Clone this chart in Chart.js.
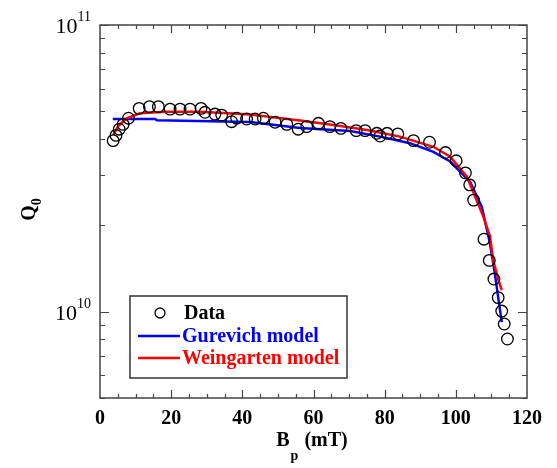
<!DOCTYPE html>
<html>
<head>
<meta charset="utf-8">
<script src="https://cdn.jsdelivr.net/npm/chart.js@4"></script>
<style>
  html, body { margin: 0; padding: 0; background: #fff; }
  #wrap { width: 557px; height: 468px; }
</style>
</head>
<body>
<div id="wrap"><canvas id="chart" width="557" height="468"></canvas></div>
<script>
// measured data (B_p in mT, Q0)
const dataB = [3.7, 4.5, 5.4, 6.5, 8.0, 11.0, 13.9, 16.4, 19.7, 22.5, 25.3, 28.4, 29.5, 32.3, 34.2, 37.0, 38.4, 41.2, 43.6, 45.9,
  49.2, 52.5, 55.7, 58.1, 61.4, 64.6, 67.7, 72.0, 74.5, 77.8, 78.7, 80.7, 83.7, 88.1, 92.6, 97.1, 100.1, 102.7, 103.9, 105.0,
  107.9, 109.4, 110.7, 111.9, 112.9, 113.6, 114.5];
const dataQ = [3.95e10, 4.12e10, 4.33e10, 4.50e10, 4.73e10, 5.12e10, 5.19e10, 5.19e10, 5.09e10, 5.09e10, 5.09e10, 5.12e10, 4.96e10, 4.89e10, 4.85e10, 4.60e10, 4.73e10, 4.70e10, 4.70e10, 4.73e10,
  4.58e10, 4.50e10, 4.33e10, 4.42e10, 4.54e10, 4.42e10, 4.36e10, 4.28e10, 4.28e10, 4.19e10, 4.10e10, 4.19e10, 4.17e10, 3.95e10, 3.90e10, 3.59e10, 3.36e10, 3.05e10, 2.77e10, 2.45e10,
  1.79e10, 1.51e10, 1.30e10, 1.12e10, 1.005e10, 9.06e9, 8.03e9];

const gurB = [3.6, 15.5, 16.0, 42.2, 56.2, 70.3, 78.7, 87.1, 93.7, 98.4, 102.1, 104.0, 107.3, 109.6, 111.0, 112.0, 112.9];
const gurQ = [4.70e10, 4.70e10, 4.65e10, 4.59e10, 4.37e10, 4.27e10, 4.08e10, 3.87e10, 3.61e10, 3.34e10, 3.00e10, 2.84e10, 2.32e10, 1.73e10, 1.35e10, 1.10e10, 9.2e9];

const weiB = [3.7, 5.1, 7.5, 11.2, 18.7, 28.1, 42.2, 56.2, 65.6, 75.0, 84.3, 93.7, 98.4, 103.1, 105.4, 107.7, 109.6, 110.5, 111.9, 112.9];
const weiQ = [4.13e10, 4.44e10, 4.73e10, 4.92e10, 4.98e10, 4.98e10, 4.87e10, 4.64e10, 4.48e10, 4.30e10, 4.08e10, 3.76e10, 3.47e10, 2.96e10, 2.52e10, 2.15e10, 1.83e10, 1.51e10, 1.30e10, 1.19e10];

const xTicks = [0, 20, 40, 60, 80, 100, 120];
const yMajor = [1e10, 1e11];
const yMinor = [5e9, 6e9, 7e9, 8e9, 9e9, 2e10, 3e10, 4e10, 5e10, 6e10, 7e10, 8e10, 9e10];
const legendItems = ['Data', 'Gurevich model', 'Weingarten model'];

const SERIF = '"Liberation Serif", "DejaVu Serif", serif';
const BLUE = '#0000ff';
const RED = '#ff0000';

const pts = (xs, ys) => xs.map((x, i) => ({ x: x, y: ys[i] }));

const framePlugin = {
  id: 'frame',
  afterDraw(chart) {
    const { ctx, chartArea: a, scales: { x, y } } = chart;
    ctx.save();
    ctx.strokeStyle = '#444';
    ctx.lineWidth = 1.5;
    ctx.strokeRect(a.left, a.top, a.right - a.left, a.bottom - a.top);

    // ticks, inward on all four sides
    ctx.lineWidth = 1.2;
    ctx.beginPath();
    for (let v = 5; v < 120; v += 5) {
      const px = Math.round(x.getPixelForValue(v)) + 0.5;
      const len = v % 20 === 0 ? 8 : 4;
      ctx.moveTo(px, a.bottom); ctx.lineTo(px, a.bottom - len);
      ctx.moveTo(px, a.top); ctx.lineTo(px, a.top + len);
    }
    yMajor.concat(yMinor).forEach(v => {
      const py = Math.round(y.getPixelForValue(v)) + 0.5;
      const len = yMajor.includes(v) ? 9 : 5;
      ctx.moveTo(a.left, py); ctx.lineTo(a.left + len, py);
      ctx.moveTo(a.right, py); ctx.lineTo(a.right - len, py);
    });
    ctx.stroke();

    // y tick labels: 10^10, 10^11
    ctx.fillStyle = '#000';
    yMajor.forEach(v => {
      const py = y.getPixelForValue(v);
      const exp = String(Math.round(Math.log10(v)));
      ctx.font = '14px ' + SERIF;
      const ew = ctx.measureText(exp).width;
      const right = 91;
      ctx.textBaseline = 'alphabetic';
      ctx.textAlign = 'left';
      ctx.fillText(exp, right - ew, py - 4);
      ctx.font = '22px ' + SERIF;
      ctx.textAlign = 'right';
      ctx.fillText('10', right - ew, py + 8);
    });

    // x title: B_p (mT)
    ctx.font = 'bold 20px ' + SERIF;
    ctx.textAlign = 'left';
    ctx.textBaseline = 'alphabetic';
    const cx = 311;
    const wB = ctx.measureText('B').width;
    ctx.font = 'bold 14px ' + SERIF;
    const wp = ctx.measureText('p').width;
    ctx.font = 'bold 20px ' + SERIF;
    const wRest = ctx.measureText(' (mT)').width;
    let sx = cx - (wB + wp + wRest) / 2;
    ctx.fillText('B', sx, 446);
    ctx.font = 'bold 14px ' + SERIF;
    ctx.fillText('p', sx + wB + 1, 460);
    ctx.font = 'bold 20px ' + SERIF;
    ctx.fillText(' (mT)', sx + wB + wp + 2, 446);

    // y title: Q_0
    ctx.translate(35, 213);
    ctx.rotate(-Math.PI / 2);
    ctx.font = 'bold 20px ' + SERIF;
    ctx.textAlign = 'center';
    ctx.fillText('Q', 0, 0);
    const wQ = ctx.measureText('Q').width;
    ctx.font = 'bold 14px ' + SERIF;
    ctx.textAlign = 'left';
    ctx.fillText('0', wQ / 2, 6);
    ctx.setTransform(1, 0, 0, 1, 0, 0);

    // legend
    const lx = 130, ly = 296, lw = 217, lh = 82;
    ctx.fillStyle = '#fff';
    ctx.fillRect(lx, ly, lw, lh);
    ctx.strokeStyle = '#333';
    ctx.lineWidth = 1.5;
    ctx.strokeRect(lx, ly, lw, lh);
    const rows = [313, 336, 358];
    const colors = ['#000', BLUE, RED];
    ctx.font = 'bold 20px ' + SERIF;
    ctx.textBaseline = 'middle';
    ctx.textAlign = 'left';
    legendItems.forEach((t, i) => {
      if (i === 0) {
        ctx.beginPath();
        ctx.arc(160, rows[i], 5, 0, Math.PI * 2);
        ctx.strokeStyle = '#000';
        ctx.lineWidth = 1.3;
        ctx.stroke();
      } else {
        ctx.beginPath();
        ctx.moveTo(138, rows[i]); ctx.lineTo(180, rows[i]);
        ctx.strokeStyle = colors[i];
        ctx.lineWidth = 2.5;
        ctx.stroke();
      }
      ctx.fillStyle = colors[i];
      ctx.fillText(t, i === 0 ? 184 : 182, rows[i] + 1);
    });
    ctx.restore();
  }
};

new Chart(document.getElementById('chart'), {
  type: 'scatter',
  data: {
    datasets: [
      { label: legendItems[0], data: pts(dataB, dataQ), showLine: false, pointStyle: 'circle', pointRadius: 5.8,
        pointBorderColor: '#000', pointBackgroundColor: 'rgba(0,0,0,0)', pointBorderWidth: 1.3, order: 0 },
      { label: legendItems[1], data: pts(gurB, gurQ), showLine: true, pointRadius: 0, borderColor: BLUE,
        borderWidth: 2.5, tension: 0, order: 2 },
      { label: legendItems[2], data: pts(weiB, weiQ), showLine: true, pointRadius: 0, borderColor: RED,
        borderWidth: 2.5, tension: 0, order: 1 }
    ]
  },
  options: {
    responsive: false,
    animation: false,
    layout: { padding: { left: 0, right: 30, top: 25, bottom: 0 } },
    plugins: { legend: { display: false }, tooltip: { enabled: false } },
    scales: {
      x: {
        type: 'linear', min: 0, max: 120,
        grid: { display: false, drawTicks: false },
        border: { display: false },
        ticks: {
          stepSize: 20, autoSkip: false, maxRotation: 0, padding: 9, color: '#000',
          font: { family: SERIF, size: 20, weight: 'bold' },
          callback: v => xTicks.includes(v) ? String(v) : ''
        },
        afterFit: s => { s.height = 70; }
      },
      y: {
        type: 'logarithmic', min: 5e9, max: 1e11,
        grid: { display: false, drawTicks: false },
        border: { display: false },
        ticks: { display: false },
        afterFit: s => { s.height = s.height; s.width = 100; }
      }
    }
  },
  plugins: [framePlugin]
});
</script>
</body>
</html>
